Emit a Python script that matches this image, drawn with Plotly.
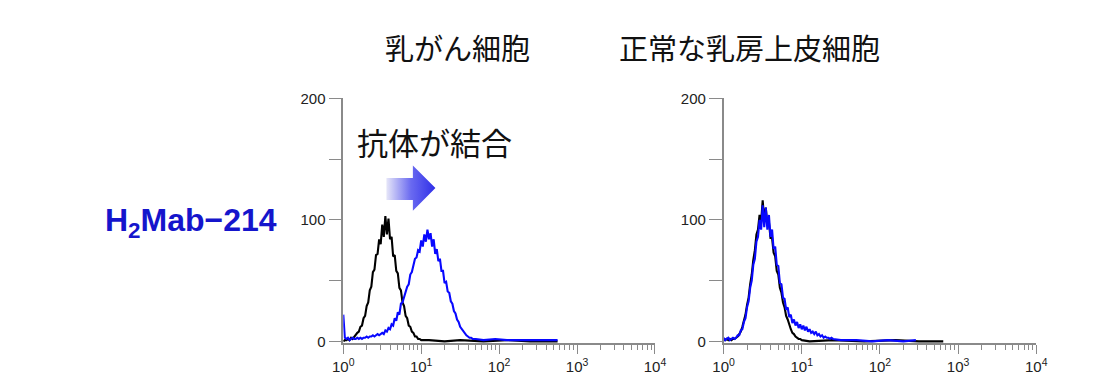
import numpy as np
import plotly.graph_objects as go

# ---------------- data ----------------
# fluorescence intensity positions are given as log10 decades (10^0 .. 10^4)
STEP = 0.02

# Left panel: breast cancer cells
cancer_control_counts = [0, 1, 1, 2, 1, 3, 2, 4, 5, 7,
                         8, 12, 13, 19, 21, 29, 32, 42, 45, 57,
                         59, 71, 72, 84, 80, 96, 86, 103, 88, 101,
                         84, 86, 70, 71, 58, 56, 44, 42, 32, 29,
                         21, 19, 13, 12, 8, 7, 4, 4, 2, 2,
                         1]
cancer_control_tail_log = [1.1, 1.3, 1.5, 1.8, 2.1, 2.4, 2.75]
cancer_control_tail_counts = [1, 0, 1, 0, 1, 0, 0]

cancer_antibody_counts = [22, 3, 2, 3, 1, 2, 3, 2, 2, 3,
                          2, 3, 2, 3, 3, 4, 3, 4, 4, 5,
                          4, 5, 6, 5, 6, 7, 6, 9, 8, 11,
                          10, 14, 13, 19, 17, 24, 22, 31, 32, 37,
                          42, 45, 47, 55, 57, 62, 68, 69, 75, 74,
                          83, 78, 88, 82, 92, 84, 89, 78, 84, 72,
                          76, 66, 68, 58, 58, 48, 49, 41, 40, 33,
                          31, 25, 23, 18, 16, 12, 10, 8, 7, 5,
                          4, 3, 3, 2, 2, 2]
cancer_antibody_tail_log = [1.8, 1.95, 2.1, 2.3, 2.5, 2.75]
cancer_antibody_tail_counts = [1, 2, 1, 1, 1, 1]

# Right panel: normal mammary epithelial cells
normal_control_counts = [2, 1, 2, 1, 2, 1, 2, 2, 3, 4,
                         6, 8, 12, 16, 22, 30, 36, 47, 55, 67,
                         75, 88, 92, 104, 98, 116, 100, 110, 96, 98,
                         85, 85, 73, 70, 58, 55, 44, 40, 32, 28,
                         21, 18, 13, 10, 7, 6, 4, 3, 2, 2,
                         1]
normal_control_tail_log = [1.1, 1.4, 1.8, 2.2, 2.5, 2.81]
normal_control_tail_counts = [0, 1, 0, 1, 0, 0]

normal_antibody_counts = [3, 1, 2, 3, 1, 2, 3, 2, 3, 5,
                          5, 9, 10, 16, 19, 28, 33, 44, 50, 63,
                          68, 82, 86, 100, 92, 112, 94, 110, 92, 104,
                          86, 92, 76, 78, 63, 62, 48, 47, 36, 35,
                          26, 28, 20, 22, 15, 18, 13, 16, 11, 14,
                          10, 13, 9, 12, 8, 10, 7, 8, 6, 8,
                          5, 6, 4, 5, 3, 4, 3, 3, 2, 3,
                          2]
normal_antibody_tail_log = [1.5, 1.7, 1.9, 2.1, 2.3, 2.46]
normal_antibody_tail_counts = [1, 1, 0, 1, 0, 1]

panel_titles = ["乳がん細胞", "正常な乳房上皮細胞"]
binding_label = "抗体が結合"
antibody_name = "H<sub>2</sub>Mab−214"

y_tick_vals = [0, 50, 100, 150, 200]
y_tick_text = ["0", "", "100", "", "200"]
x_tick_vals = [1, 10, 100, 1000, 10000]
x_tick_text = ["10<sup>0</sup>", "10<sup>1</sup>", "10<sup>2</sup>", "10<sup>3</sup>", "10<sup>4</sup>"]

# ---------------- layout helpers ----------------
W, H = 1110, 378


def fx(p):
    return p / W


def fy(p):
    return 1 - p / H


def series(dense, tail_log, tail_counts):
    logs = [round(i * STEP, 4) for i in range(len(dense))] + list(tail_log)
    counts = list(dense) + list(tail_counts)
    return [10 ** v for v in logs], counts


BLACK = "#000000"
BLUE = "#0808ff"
AXIS = "#8a8a8a"
LABEL_FONT = dict(family="Liberation Sans, Arial", size=15, color="#222222")
JP_FONT = "Noto Sans CJK JP"

fig = go.Figure()

panels = [
    ("x", "y", (cancer_control_counts, cancer_control_tail_log, cancer_control_tail_counts),
     (cancer_antibody_counts, cancer_antibody_tail_log, cancer_antibody_tail_counts)),
    ("x2", "y2", (normal_control_counts, normal_control_tail_log, normal_control_tail_counts),
     (normal_antibody_counts, normal_antibody_tail_log, normal_antibody_tail_counts)),
]
for xa, ya, ctrl, ab in panels:
    cx, cy = series(*ctrl)
    bx, by = series(*ab)
    fig.add_trace(go.Scatter(x=cx, y=cy, mode="lines", line=dict(color=BLACK, width=2.1),
                             xaxis=xa, yaxis=ya, hoverinfo="skip", showlegend=False))
    fig.add_trace(go.Scatter(x=bx, y=by, mode="lines", line=dict(color=BLUE, width=2.1),
                             xaxis=xa, yaxis=ya, hoverinfo="skip", showlegend=False))

# gradient arrow (decoration, pixel space on a hidden overlay axis)
ax0, ax1, ax2 = 383, 410, 433
ay_top, ay_bot, ah_top, ah_bot = 176, 199, 163, 210
fig.add_trace(go.Scatter(
    x=[ax0, ax1, ax1, ax2, ax1, ax1, ax0, ax0],
    y=[ay_top, ay_top, ah_top, (ah_top + ah_bot) / 2, ah_bot, ay_bot, ay_bot, ay_top],
    mode="lines", fill="toself", line=dict(width=0, color="rgba(0,0,0,0)"),
    fillgradient=dict(type="horizontal",
                      colorscale=[[0, "#e6e6f8"], [0.5, "#6a6af0"], [1, "#2f2fe8"]]),
    xaxis="x3", yaxis="y3", hoverinfo="skip", showlegend=False))

y_dom = [fy(348), fy(93)]
common_x = dict(type="log", range=[0, 4], showline=True, linecolor=AXIS, linewidth=1.5,
                ticks="outside", ticklen=9, tickcolor=AXIS, tickwidth=1.2,
                tickmode="array", tickvals=x_tick_vals, ticktext=x_tick_text,
                tickfont=LABEL_FONT, showgrid=False, zeroline=False,
                minor=dict(ticks="outside", ticklen=5, tickcolor=AXIS, tickwidth=1.2,
                           tickmode="array",
                           tickvals=[k * 10 ** d for d in range(4) for k in range(2, 10)],
                           showgrid=False),
                fixedrange=True)
common_y = dict(range=[-1.5, 200], domain=y_dom, showline=True, linecolor=AXIS, linewidth=1.5,
                ticks="outside", ticklen=13, tickcolor=AXIS, tickwidth=1.2,
                tickmode="array", tickvals=y_tick_vals, ticktext=y_tick_text,
                tickfont=LABEL_FONT, showgrid=False, zeroline=False, fixedrange=True)

fig.update_layout(
    width=W, height=H, margin=dict(l=0, r=0, t=0, b=0),
    paper_bgcolor="white", plot_bgcolor="rgba(0,0,0,0)",
    xaxis=dict(common_x, domain=[fx(339), fx(657)], anchor="y"),
    yaxis=dict(common_y, anchor="x"),
    xaxis2=dict(common_x, domain=[fx(727), fx(1046)], anchor="y2"),
    yaxis2=dict(common_y, anchor="x2"),
    xaxis3=dict(domain=[0, 1], range=[0, W], visible=False, anchor="y3", fixedrange=True),
    yaxis3=dict(domain=[0, 1], range=[H, 0], visible=False, anchor="x3", fixedrange=True),
    showlegend=False,
)

fig.add_annotation(text=panel_titles[0], x=fx(456), y=fy(40), xref="paper", yref="paper",
                   xanchor="center", yanchor="middle", showarrow=False,
                   font=dict(family=JP_FONT, size=29, color="#111111"))
fig.add_annotation(text=panel_titles[1], x=fx(753.5), y=fy(40), xref="paper", yref="paper",
                   xanchor="center", yanchor="middle", showarrow=False,
                   font=dict(family=JP_FONT, size=29, color="#111111"))
fig.add_annotation(text=binding_label, x=fx(351), y=fy(138), xref="paper", yref="paper",
                   xanchor="left", yanchor="middle", showarrow=False,
                   font=dict(family=JP_FONT, size=31, color="#111111"))
fig.add_annotation(text=antibody_name, x=fx(273), y=fy(222), xref="paper", yref="paper",
                   xanchor="right", yanchor="middle", showarrow=False,
                   font=dict(family="Liberation Sans", size=32,
                             color="#1515cc", weight="bold"))

fig.write_html("out.html", config={"displayModeBar": False},
               post_script="document.body.style.margin='0';")
